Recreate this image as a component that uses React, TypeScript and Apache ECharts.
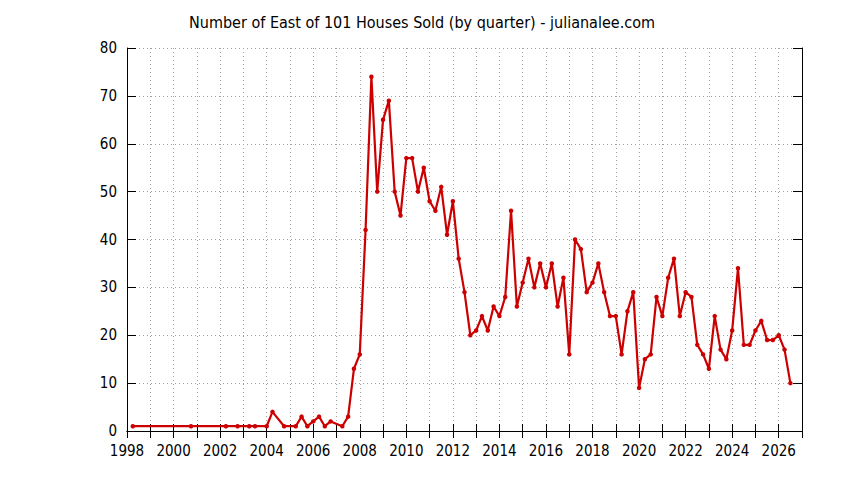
import React, { useEffect, useRef } from "react";
import * as echarts from "echarts";

const TITLE = "Number of East of 101 Houses Sold (by quarter) - julianalee.com";

const quarters: number[] = [
  1998.25, 2000.75, 2002.25, 2002.75, 2003.25, 2003.5, 2004.0, 2004.25, 2004.75, 2005.25,
  2005.5, 2005.75, 2006.0, 2006.25, 2006.5, 2006.75, 2007.25, 2007.5, 2007.75, 2008.0,
  2008.25, 2008.5, 2008.75, 2009.0, 2009.25, 2009.5, 2009.75, 2010.0, 2010.25, 2010.5,
  2010.75, 2011.0, 2011.25, 2011.5, 2011.75, 2012.0, 2012.25, 2012.5, 2012.75, 2013.0,
  2013.25, 2013.5, 2013.75, 2014.0, 2014.25, 2014.5, 2014.75, 2015.0, 2015.25, 2015.5,
  2015.75, 2016.0, 2016.25, 2016.5, 2016.75, 2017.0, 2017.25, 2017.5, 2017.75, 2018.0,
  2018.25, 2018.5, 2018.75, 2019.0, 2019.25, 2019.5, 2019.75, 2020.0, 2020.25, 2020.5,
  2020.75, 2021.0, 2021.25, 2021.5, 2021.75, 2022.0, 2022.25, 2022.5, 2022.75, 2023.0,
  2023.25, 2023.5, 2023.75, 2024.0, 2024.25, 2024.5, 2024.75, 2025.0, 2025.25, 2025.5,
  2025.75, 2026.0, 2026.25, 2026.5,
];

const housesSold: number[] = [
  1, 1, 1, 1, 1, 1, 1, 4, 1, 1,
  3, 1, 2, 3, 1, 2, 1, 3, 13, 16,
  42, 74, 50, 65, 69, 50, 45, 57, 57, 50,
  55, 48, 46, 51, 41, 48, 36, 29, 20, 21,
  24, 21, 26, 24, 28, 46, 26, 31, 36, 30,
  35, 30, 35, 26, 32, 16, 40, 38, 29, 31,
  35, 29, 24, 24, 16, 25, 29, 9, 15, 16,
  28, 24, 32, 36, 24, 29, 28, 18, 16, 13,
  24, 17, 15, 21, 34, 18, 18, 21, 23, 19,
  19, 20, 17, 10,
];

const X_MIN = 1998;
const X_MAX = 2027;
const Y_MIN = 0;
const Y_MAX = 80;

const FONT = "DejaVu Sans Condensed";

export default function App() {
  const ref = useRef<HTMLDivElement>(null);

  useEffect(() => {
    if (!ref.current) return;
    const chart = echarts.init(ref.current, null, { renderer: "svg" });
    const gridLine = { show: true, lineStyle: { color: "#a0a0a0", width: 1, type: [1, 3] as any } };
    const axisLine = { show: true, lineStyle: { color: "#000", width: 1 } };
    chart.setOption({
      animation: false,
      backgroundColor: "#fff",
      title: {
        text: TITLE,
        left: "center",
        top: 9,
        textStyle: { fontFamily: FONT, fontSize: 16, fontWeight: "normal", color: "#000" },
      },
      grid: { left: 127, top: 48, width: 675, height: 383, containLabel: false },
      xAxis: [
        {
          type: "value",
          min: X_MIN,
          max: X_MAX,
          interval: 1,
          axisLine,
          axisTick: { show: true, inside: true, length: 7, lineStyle: { color: "#000" } },
          axisLabel: {
            margin: 12,
            fontFamily: FONT,
            fontSize: 15,
            color: "#000",
            formatter: (v: number) => (v % 2 === 0 && v < X_MAX ? String(v) : ""),
          },
          splitLine: gridLine,
        },
        {
          type: "value",
          position: "top",
          min: X_MIN,
          max: X_MAX,
          interval: 1,
          axisLine,
          axisTick: { show: true, inside: true, length: 7, lineStyle: { color: "#000" } },
          axisLabel: { show: false },
          splitLine: { show: false },
        },
      ],
      yAxis: [
        {
          type: "value",
          min: Y_MIN,
          max: Y_MAX,
          interval: 10,
          axisLine,
          axisTick: { show: true, inside: true, length: 9, lineStyle: { color: "#000" } },
          axisLabel: { margin: 10, fontFamily: FONT, fontSize: 15, color: "#000" },
          splitLine: gridLine,
        },
        {
          type: "value",
          position: "right",
          min: Y_MIN,
          max: Y_MAX,
          interval: 10,
          axisLine,
          axisTick: { show: true, inside: true, length: 9, lineStyle: { color: "#000" } },
          axisLabel: { show: false },
          splitLine: { show: false },
        },
      ],
      series: [
        {
          type: "line",
          xAxisIndex: 0,
          yAxisIndex: 0,
          data: quarters.map((q, i) => [q, housesSold[i]]),
          symbol: "circle",
          symbolSize: 4.5,
          showSymbol: true,
          itemStyle: { color: "#cc0000" },
          lineStyle: { color: "#cc0000", width: 2.2 },
        },
      ],
    });
    return () => chart.dispose();
  }, []);

  return (
    <div
      ref={ref}
      style={{ position: "absolute", left: 0, top: 0, width: 844, height: 480 }}
    />
  );
}
